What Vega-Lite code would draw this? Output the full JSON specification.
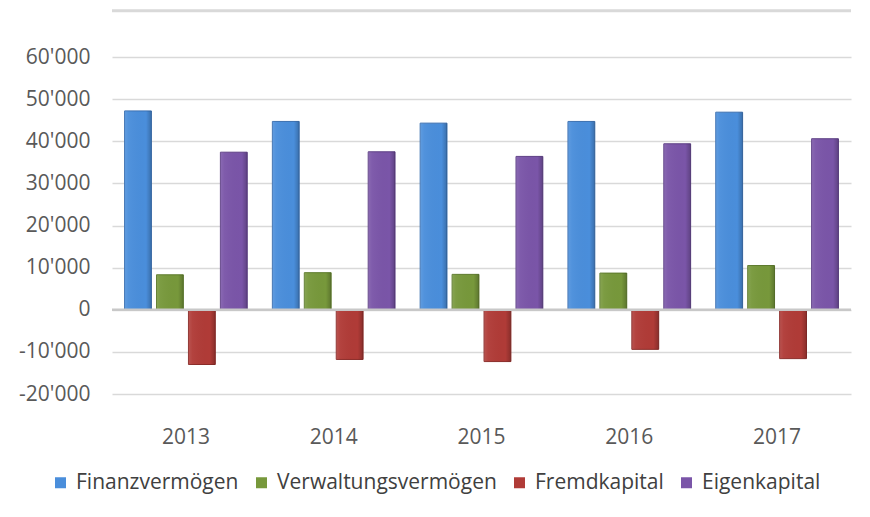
{
  "$schema": "https://vega.github.io/schema/vega-lite/v6.json",
  "width": 739,
  "height": 337,
  "autosize": {"type": "none"},
  "padding": {"left": 112, "top": 57, "right": 19, "bottom": 123},
  "background": "white",
  "config": {
    "view": {"stroke": null},
    "font": "Open Sans"
  },
  "data": {
    "values": [
      {"year": "2013", "series": "Finanzvermögen", "value": 47200},
      {"year": "2013", "series": "Verwaltungsvermögen", "value": 8300},
      {"year": "2013", "series": "Fremdkapital", "value": -13000},
      {"year": "2013", "series": "Eigenkapital", "value": 37400},
      {"year": "2014", "series": "Finanzvermögen", "value": 44700},
      {"year": "2014", "series": "Verwaltungsvermögen", "value": 8800},
      {"year": "2014", "series": "Fremdkapital", "value": -11800},
      {"year": "2014", "series": "Eigenkapital", "value": 37500},
      {"year": "2015", "series": "Finanzvermögen", "value": 44300},
      {"year": "2015", "series": "Verwaltungsvermögen", "value": 8400},
      {"year": "2015", "series": "Fremdkapital", "value": -12300},
      {"year": "2015", "series": "Eigenkapital", "value": 36400},
      {"year": "2016", "series": "Finanzvermögen", "value": 44700},
      {"year": "2016", "series": "Verwaltungsvermögen", "value": 8700},
      {"year": "2016", "series": "Fremdkapital", "value": -9400},
      {"year": "2016", "series": "Eigenkapital", "value": 39400},
      {"year": "2017", "series": "Finanzvermögen", "value": 46900},
      {"year": "2017", "series": "Verwaltungsvermögen", "value": 10500},
      {"year": "2017", "series": "Fremdkapital", "value": -11600},
      {"year": "2017", "series": "Eigenkapital", "value": 40600}
    ]
  },
  "encoding": {
    "x": {
      "field": "year", "type": "nominal",
      "scale": {"paddingInner": 0.17, "paddingOuter": 0.085},
      "axis": {"title": null, "labelAngle": 0, "domain": false, "ticks": false, "labelPadding": 32, "labelFontSize": 21, "labelColor": "#595959"}
    },
    "xOffset": {
      "field": "series", "type": "nominal",
      "sort": ["Finanzvermögen", "Verwaltungsvermögen", "Fremdkapital", "Eigenkapital"],
      "scale": {"paddingInner": 0.16, "paddingOuter": 0}
    },
    "y": {
      "field": "value", "type": "quantitative",
      "scale": {"domain": [-20000, 60000], "nice": false},
      "axis": {"title": null, "values": [-20000, -10000, 0, 10000, 20000, 30000, 40000, 50000, 60000], "labelExpr": "replace(replace(format(datum.value, ','), /,/g, \"'\"), /\u2212/g, '-')", "domain": false, "ticks": false, "labelPadding": 22, "labelFontSize": 21, "labelColor": "#595959", "gridColor": "#d9d9d9", "gridWidth": 1.5}
    }
  },
  "layer": [
    {
      "mark": {"type": "bar", "strokeWidth": 1},
      "encoding": {
        "color": {
          "field": "series", "type": "nominal",
          "sort": ["Finanzvermögen", "Verwaltungsvermögen", "Fremdkapital", "Eigenkapital"],
          "scale": {"domain": ["Finanzvermögen", "Verwaltungsvermögen", "Fremdkapital", "Eigenkapital"], "range": ["#4a8edb", "#77983b", "#b03b37", "#7a55a8"]},
          "legend": {"title": null, "orient": "none", "legendX": -62, "legendY": 415, "direction": "horizontal", "symbolType": "square", "symbolSize": 121, "symbolStrokeWidth": 0, "labelFontSize": 21, "labelLimit": 400, "labelColor": "#404040", "columnPadding": 12, "labelOffset": 5}
        },
        "stroke": {
          "field": "series", "type": "nominal",
          "scale": {"domain": ["Finanzvermögen", "Verwaltungsvermögen", "Fremdkapital", "Eigenkapital"], "range": ["#3a6fb0", "#5d7a2c", "#8a2b28", "#5d3f85"]},
          "legend": null
        }
      }
    },
    {
      "mark": {
        "type": "bar",
        "fill": {
          "gradient": "linear", "x1": 0, "y1": 0, "x2": 1, "y2": 0,
          "stops": [
            {"offset": 0, "color": "rgba(255,255,255,0.12)"},
            {"offset": 0.15, "color": "rgba(255,255,255,0.04)"},
            {"offset": 0.8, "color": "rgba(0,0,0,0.0)"},
            {"offset": 1, "color": "rgba(0,0,0,0.22)"}
          ]
        }
      }
    },
    {
      "data": {"values": [{"v": 0}]},
      "mark": {"type": "rule", "color": "#c8c8c8", "strokeWidth": 2.5},
      "encoding": {"x": null, "xOffset": null, "y": {"field": "v", "type": "quantitative"}}
    },
    {
      "data": {"values": [{"v": 71000}]},
      "mark": {"type": "rule", "color": "#d9d9d9", "strokeWidth": 3, "clip": false},
      "encoding": {"x": null, "xOffset": null, "y": {"field": "v", "type": "quantitative"}}
    }
  ]
}
